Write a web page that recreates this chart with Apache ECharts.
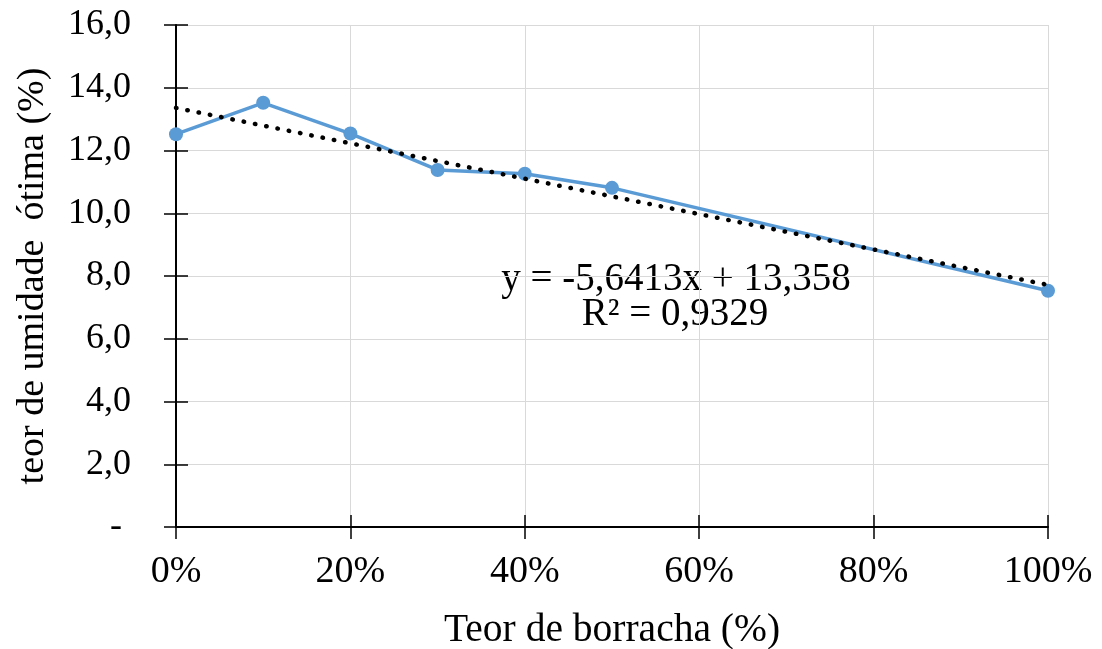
<!DOCTYPE html>
<html>
<head>
<meta charset="utf-8">
<script src="https://cdn.jsdelivr.net/npm/echarts@6/dist/echarts.min.js"></script>
<style>
html,body{margin:0;padding:0;background:#fff;}
#chart{width:1102px;height:649px;}
</style>
</head>
<body>
<div id="chart"></div>
<script>
// Data
const rubberContent = [0, 0.1, 0.2, 0.3, 0.4, 0.5, 1.0];            // Teor de borracha (fraction)
const optimumMoisture = [12.52, 13.52, 12.54, 11.38, 11.26, 10.81, 7.53]; // teor de umidade ótima (%)
const trendX = [0, 1.0];
const trendY = [13.358, 7.7167];   // linear trendline endpoints: y = -5,6413x + 13,358
const xTicks = [0, 0.2, 0.4, 0.6, 0.8, 1.0];
const yTicks = [0, 2, 4, 6, 8, 10, 12, 14, 16];
const equationText = 'y = -5,6413x + 13,358';
const r2Text = 'R² = 0,9329';

const FONT = '"Liberation Serif", "Times New Roman", serif';
const chart = echarts.init(document.getElementById('chart'), null, {renderer: 'canvas'});

const xMin = xTicks[0], xMax = xTicks[xTicks.length - 1], xInt = xTicks[1] - xTicks[0];
const yMin = yTicks[0], yMax = yTicks[yTicks.length - 1], yInt = yTicks[1] - yTicks[0];

const option = {
  animation: false,
  backgroundColor: '#fff',
  grid: {left: 176, right: 54, top: 25, bottom: 122, containLabel: false, outerBoundsMode: 'none'},
  xAxis: [{
    type: 'value', min: xMin, max: xMax, interval: xInt,
    name: 'Teor de borracha (%)', nameLocation: 'middle', nameGap: 84,
    nameTextStyle: {fontFamily: FONT, fontSize: 39.5, color: '#000'},
    axisLine: {show: true, onZero: false, lineStyle: {color: '#000', width: 2}},
    axisTick: {show: true, inside: false, length: 12, lineStyle: {color: '#000', width: 1.5}},
    axisLabel: {fontFamily: FONT, fontSize: 38, color: '#000', margin: 26,
      formatter: v => Math.round(v * 100) + '%'},
    splitLine: {show: true, lineStyle: {color: '#d9d9d9', width: 1}}
  }, {
    type: 'value', min: xMin, max: xMax, interval: xInt, position: 'bottom',
    axisLine: {show: false}, axisLabel: {show: false}, splitLine: {show: false},
    axisTick: {show: true, inside: true, length: 12, lineStyle: {color: '#000', width: 1.5}}
  }],
  yAxis: [{
    type: 'value', min: yMin, max: yMax, interval: yInt,
    name: 'teor de umidade  ótima (%)', nameLocation: 'middle', nameGap: 124,
    nameTextStyle: {fontFamily: FONT, fontSize: 38, color: '#000'},
    axisLine: {show: true, onZero: false, lineStyle: {color: '#000', width: 2}},
    axisTick: {show: true, inside: false, length: 12, lineStyle: {color: '#000', width: 1.5}},
    axisLabel: {fontFamily: FONT, fontSize: 36, color: '#000', margin: 45,
      formatter: v => v === 0 ? '- ' : v.toFixed(1).replace('.', ',')},
    splitLine: {show: true, lineStyle: {color: '#d9d9d9', width: 1}}
  }, {
    type: 'value', min: yMin, max: yMax, interval: yInt, position: 'left',
    axisLine: {show: false}, axisLabel: {show: false}, splitLine: {show: false},
    axisTick: {show: true, inside: true, length: 12, lineStyle: {color: '#000', width: 1.5}}
  }],
  series: [{
    type: 'line',
    data: rubberContent.map((x, i) => [x, optimumMoisture[i]]),
    symbol: 'circle', symbolSize: 14,
    lineStyle: {color: '#5b9bd5', width: 3.5},
    itemStyle: {color: '#5b9bd5'},
    z: 3
  }, {
    type: 'line',
    data: trendX.map((x, i) => [x, trendY[i]]),
    symbol: 'none',
    lineStyle: {color: '#000', width: 4.5, type: [0.5, 11], cap: 'round'},
    z: 4
  }],
  graphic: [{
    type: 'text', x: 676, y: 280,
    style: {text: equationText, font: '39px ' + FONT, fill: '#000', align: 'center', verticalAlign: 'middle'}
  }, {
    type: 'text', x: 675, y: 315,
    style: {text: r2Text, font: '39px ' + FONT, fill: '#000', align: 'center', verticalAlign: 'middle'}
  }]
};
chart.setOption(option);
</script>
</body>
</html>
